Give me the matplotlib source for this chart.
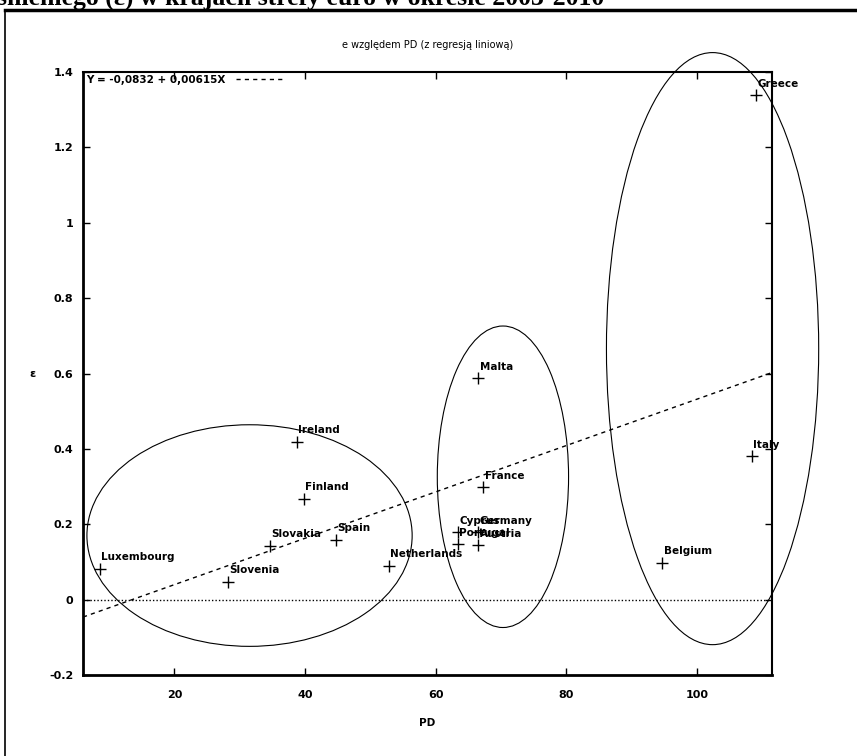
import numpy as np
import matplotlib
matplotlib.use("Agg")
import matplotlib.pyplot as plt
from matplotlib.patches import Ellipse
from matplotlib.lines import Line2D

# data
countries = ["Luxembourg", "Slovenia", "Slovakia", "Spain", "Ireland", "Finland",
             "Netherlands", "Malta", "France", "Cyprus", "Germany", "Portugal",
             "Austria", "Belgium", "Italy", "Greece"]
pd_vals = [8.6, 28.2, 34.6, 44.7, 38.7, 39.8, 52.8, 66.5, 67.3, 63.4, 66.5, 63.4,
           66.5, 94.7, 108.4, 109.0]
eps_vals = [0.082, 0.048, 0.143, 0.159, 0.419, 0.268, 0.090, 0.588, 0.299, 0.180,
            0.180, 0.148, 0.145, 0.098, 0.381, 1.338]

intercept = -0.0832
slope = 0.00615

# groups (center x, center y, width, height)
ell_cx = [31.5, 70.3, 102.4]
ell_cy = [0.170, 0.326, 0.666]
ell_w = [49.8, 20.1, 32.5]
ell_h = [0.588, 0.800, 1.571]

xticks = [20, 40, 60, 80, 100]
yticks = [-0.2, 0, 0.2, 0.4, 0.6, 0.8, 1.0, 1.2, 1.4]
ytick_labels = ["-0.2", "0", "0.2", "0.4", "0.6", "0.8", "1", "1.2", "1.4"]

plt.rcParams['font.family'] = ['DejaVu Sans']
W, H = 857, 756
fig = plt.figure(figsize=(W / 100, H / 100), dpi=100)
ax = fig.add_axes([83 / W, 1 - 675 / H, (772 - 83) / W, (675 - 72) / H])

xlim = (6.0, 111.5)
ylim = (-0.2, 1.4)
ax.set_xlim(xlim)
ax.set_ylim(ylim)

ax.axhline(0, color="black", lw=1.0, ls=(0, (1, 1.5)))

xs = np.array(xlim)
ax.plot(xs, intercept + slope * xs, color="black", lw=1.0, ls=(0, (3, 3)),
        label="Y = -0,0832 + 0,00615X")

ax.plot(pd_vals, eps_vals, ls="none", marker="+", ms=8, mew=1.0, color="black")
for name, x, y in zip(countries, pd_vals, eps_vals):
    ax.annotate(name, (x, y), xytext=(1, 4.5), textcoords="offset points",
                fontsize=7.5, fontweight="bold", ha="left", va="bottom")

for cx, cy, w, h in zip(ell_cx, ell_cy, ell_w, ell_h):
    ax.add_patch(Ellipse((cx, cy), w, h, fill=False, color="black", lw=0.8,
                         clip_on=False))

ax.set_xticks(xticks)
ax.set_xticklabels([str(t) for t in xticks])
ax.set_yticks(yticks)
ax.set_yticklabels(ytick_labels)
ax.tick_params(direction="in", length=5, width=1, top=True, right=True,
               labelsize=8)
ax.tick_params(axis="x", pad=11)
ax.tick_params(axis="y", pad=7)
for lab in ax.get_xticklabels() + ax.get_yticklabels():
    lab.set_fontweight("bold")
for side in ["left", "bottom"]:
    ax.spines[side].set_linewidth(2.0)
for side in ["top", "right"]:
    ax.spines[side].set_linewidth(1.5)

leg = ax.legend(loc="upper left", frameon=False, markerfirst=False,
                handlelength=4.8, handletextpad=1.0, borderaxespad=0.1,
                borderpad=0.2, prop={"size": 7.5, "weight": "bold"})

ax.set_xlabel("PD", fontsize=7.5, fontweight="bold", labelpad=13)
ax.set_ylabel("ε", fontsize=8, fontweight="bold", rotation=0, labelpad=12,
              va="center")
ax.set_title("e względem PD (z regresją liniową)", fontsize=7, pad=17)

# outer frame and the cut-off heading of the page
fig.add_artist(Line2D([5 / W, 1], [1 - 10 / H, 1 - 10 / H], color="black", lw=2.5))
fig.add_artist(Line2D([5 / W, 5 / W], [0, 1 - 10 / H], color="black", lw=1.2))
fig.text(604 / W, 1 - 5 / H, "śnieniego (ε) w krajach strefy euro w okresie 2003-2010",
         family="Liberation Serif", fontweight="bold", fontsize=18.5,
         ha="right", va="baseline")

fig.savefig("out.png", dpi=100)
